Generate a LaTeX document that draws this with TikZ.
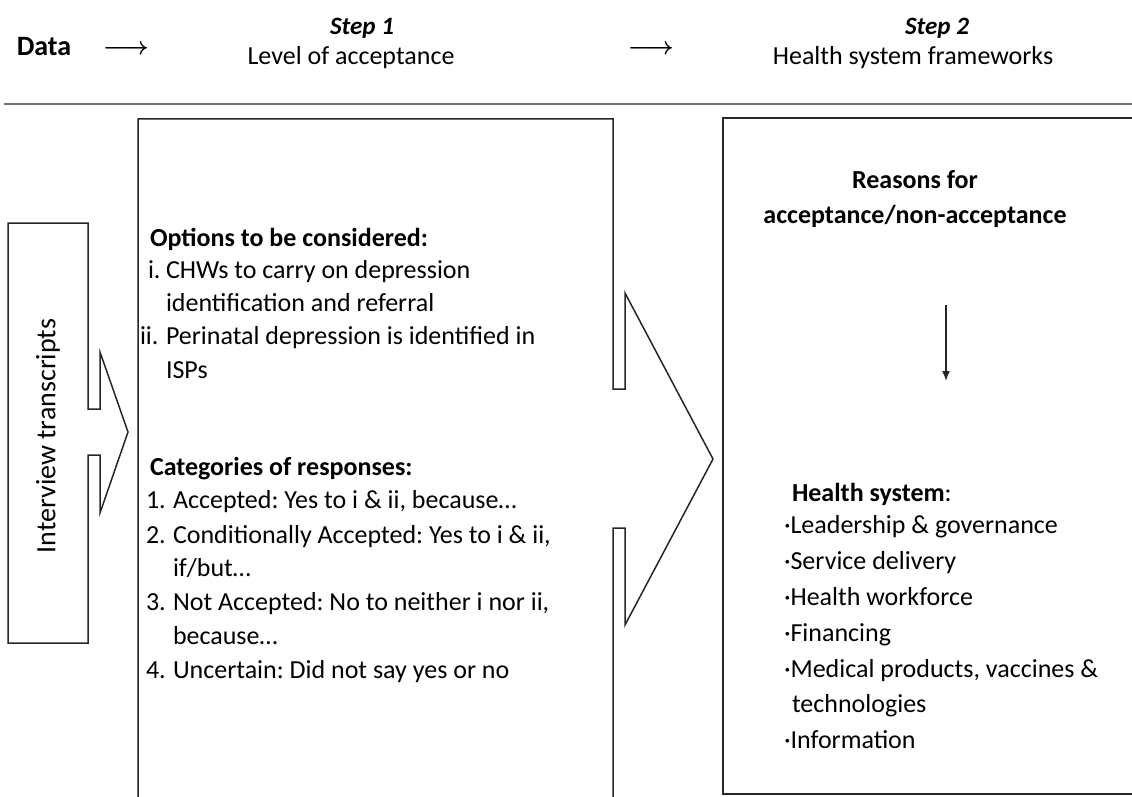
\documentclass[tikz,border=0pt]{standalone}
\usepackage{fontspec}
\setmainfont{Carlito}
\usetikzlibrary{arrows.meta}
\frenchspacing
\begin{document}
\begin{tikzpicture}[x=1pt,y=-1pt,
  every node/.style={inner sep=0pt,outer sep=0pt},
  outline/.style={line width=1.5pt,draw=black!85,line join=miter},
  fs/.style={font=\fontsize{26}{30}\selectfont},
  body/.style={fs,anchor=base west},
  bodyb/.style={anchor=base west,font=\fontsize{26}{30}\selectfont\bfseries},
  head/.style={fs,anchor=base},
  headb/.style={anchor=base,font=\fontsize{26}{30}\selectfont\bfseries},
  headbi/.style={anchor=base,font=\fontsize{25}{30}\selectfont\bfseries\itshape},
  arrowglyph/.style={anchor=base,font=\fontsize{26}{30}\selectfont\boldmath},
  rulestyle/.style={line width=2pt,draw=black!55}]
\useasboundingbox (0,0) rectangle (1132,797);
\clip (0,0) rectangle (1132,797);
% header
\node[headb,font=\fontsize{28}{30}\selectfont\bfseries] (data) at (44,56) {Data};
\node[arrowglyph] (arr1) at (126,55) {$\longrightarrow$};
\node[headbi] (s1) at (362,35) {Step 1};
\node[head] (l1) at (351,65) {Level of acceptance};
\node[arrowglyph] (arr2) at (651,55) {$\longrightarrow$};
\node[headbi] (s2) at (937,35) {Step 2};
\node[head] (l2) at (913,65) {Health system frameworks};
\draw[rulestyle] (4,104) -- (1132,104);
% left arrow box
\draw[outline] (8,223) -- (88,223) -- (88,409) -- (100,409) -- (100,352) -- (128,432) -- (100,513) -- (100,455) -- (88,455) -- (88,643) -- (8,643) -- cycle;
\node[rotate=90,font=\fontsize{28}{30}\selectfont] (it) at (48,436) {Interview transcripts};
% middle box
\draw[outline] (138,810) -- (138,119) -- (613,119) -- (613,389) -- (625,389) -- (625,293) -- (713,459) -- (625,625) -- (625,528) -- (613,528) -- (613,810);
\node[bodyb] (opt) at (150,246) {Options to be considered:};
\node[body] (o1n) at (148,278) {i.};
\node[body] (o1a) at (166,278) {CHWs to carry on depression};
\node[body] (o1b) at (166,311) {identification and referral};
\node[body] (o2n) at (140,344) {ii.};
\node[body] (o2a) at (166,344) {Perinatal depression is identified in};
\node[body] (o2b) at (166,378) {ISPs};
\node[bodyb] (cat) at (150,475) {Categories of responses:};
\node[body] (c1n) at (146,508) {1.};
\node[body] (c1a) at (173,508) {Accepted: Yes to i \& ii, because…};
\node[body] (c2n) at (146,543) {2.};
\node[body] (c2a) at (173,543) {Conditionally Accepted: Yes to i \& ii,};
\node[body] (c2b) at (173,576) {if/but…};
\node[body] (c3n) at (146,610) {3.};
\node[body] (c3a) at (173,610) {Not Accepted: No to neither i nor ii,};
\node[body] (c3b) at (173,644) {because…};
\node[body] (c4n) at (146,678) {4.};
\node[body] (c4a) at (173,678) {Uncertain: Did not say yes or no};
% right box
\draw[outline] (723,118) rectangle (1150,794);
\node[headb] (r1) at (915,188) {Reasons for};
\node[headb] (r2) at (915,223) {acceptance/non-acceptance};
\coordinate (da) at (946,305);
\coordinate (db) at (946,381);
\draw[line width=1.5pt,draw=black!85,-{Latex[length=10pt,width=8pt]}] (da) -- (db);
\node[body] (hs) at (792,501) {\textbf{Health system}:};
\node[body] (h1) at (784,533) {·Leadership \& governance};
\node[body] (h2) at (784,569) {·Service delivery};
\node[body] (h3) at (784,605) {·Health workforce};
\node[body] (h4) at (784,641) {·Financing};
\node[body] (h5) at (784,677) {·Medical products, vaccines \&};
\node[body] (h5b) at (792,712) {technologies};
\node[body] (h6) at (784,748) {·Information};
\end{tikzpicture}
\end{document}
